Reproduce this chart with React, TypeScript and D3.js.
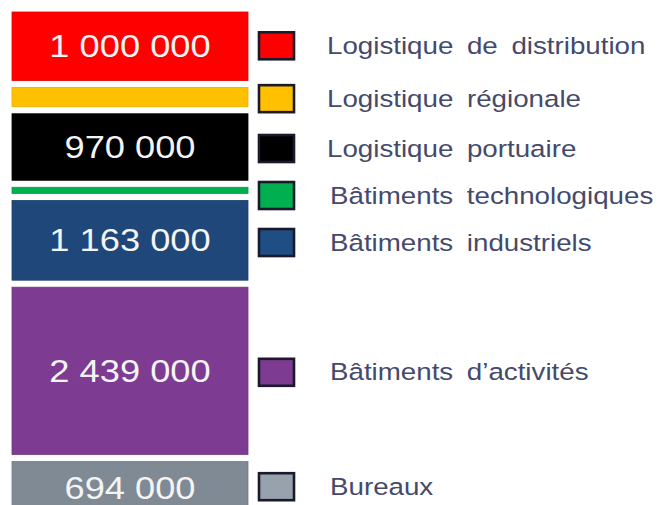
import React from "react";
import * as d3 from "d3";

const categories = [
  "Logistique de distribution",
  "Logistique régionale",
  "Logistique portuaire",
  "Bâtiments technologiques",
  "Bâtiments industriels",
  "Bâtiments d\u2019activités",
  "Bureaux",
];
const values = [1000000, 280000, 970000, 90000, 1163000, 2439000, 694000];
const barColors = ["#ff0000", "#ffc000", "#000000", "#00b050", "#1f477a", "#7d3c92", "#7f8a95"];
const swatchColors = ["#ff0000", "#ffc000", "#000000", "#00b050", "#1f4e85", "#7d3c92", "#98a2ad"];

const W = 660;
const H = 505;
const BAR_X0 = 12;
const BAR_X1 = 248;
const TOP = 12;
const BOTTOM = 509;
const GAP = 7;

const fmt = d3.formatLocale({ decimal: ",", thousands: " ", grouping: [3], currency: ["", "€"] }).format(",d");

export default function App() {
  const total = d3.sum(values);
  const nGaps = values.length - 1;
  const y = d3.scaleLinear().domain([0, total]).range([TOP, BOTTOM - nGaps * GAP]);
  const cum = d3.cumsum(values);
  const segs = values.map((v, i) => {
    const start = i === 0 ? 0 : cum[i - 1];
    const y0 = y(start) + i * GAP;
    const y1 = y(start + v) + i * GAP;
    return { v, i, y0, y1, c: (y0 + y1) / 2 };
  });
  // legend positions: follow segment centres, pushed apart when too close
  const legY: number[] = [];
  segs.forEach((s, i) => {
    const ideal = s.c;
    legY.push(i === 0 ? ideal - 1 : Math.max(ideal + 1, legY[i - 1] + 47));
  });
  const cx = (BAR_X0 + BAR_X1) / 2;

  return (
    <svg width={W} height={H} style={{ position: "absolute", left: 0, top: 0, background: "#fff" }}>
      <rect x={0} y={0} width={W} height={H} fill="#fff" />
      {segs.map((s) => (
        <g key={s.i}>
          <rect
            x={BAR_X0}
            y={s.y0}
            width={BAR_X1 - BAR_X0}
            height={s.y1 - s.y0}
            fill={barColors[s.i]}
            stroke={d3.color(barColors[s.i])!.darker(0.3).toString()}
            strokeWidth={0.8}
          />
          {s.v >= 500000 && (
            <text
              transform={`translate(${cx},${s.c + 11 + (s.i === values.length - 1 ? 3 : 0)}) scale(1.17,1)`}
              textAnchor="middle"
              fontFamily="Liberation Sans, Arial, sans-serif"
              fontSize={31}
              fill="#f4f4f4"
            >
              {fmt(s.v)}
            </text>
          )}
        </g>
      ))}
      {categories.map((c, i) => (
        <g key={c}>
          <rect
            x={259}
            y={legY[i] - 13}
            width={35}
            height={27}
            fill={swatchColors[i]}
            stroke="#1a1a2c"
            strokeWidth={2.6}
          />
          <text
            transform={`translate(${i < 3 ? 327 : 330},${legY[i] + 8.5}) scale(1.18,1)`}
            fontFamily="Liberation Sans, Arial, sans-serif"
            fontSize={23.5}
            fill="#454a6c"
            style={{ wordSpacing: "5px" }}
          >
            {c}
          </text>
        </g>
      ))}
    </svg>
  );
}
